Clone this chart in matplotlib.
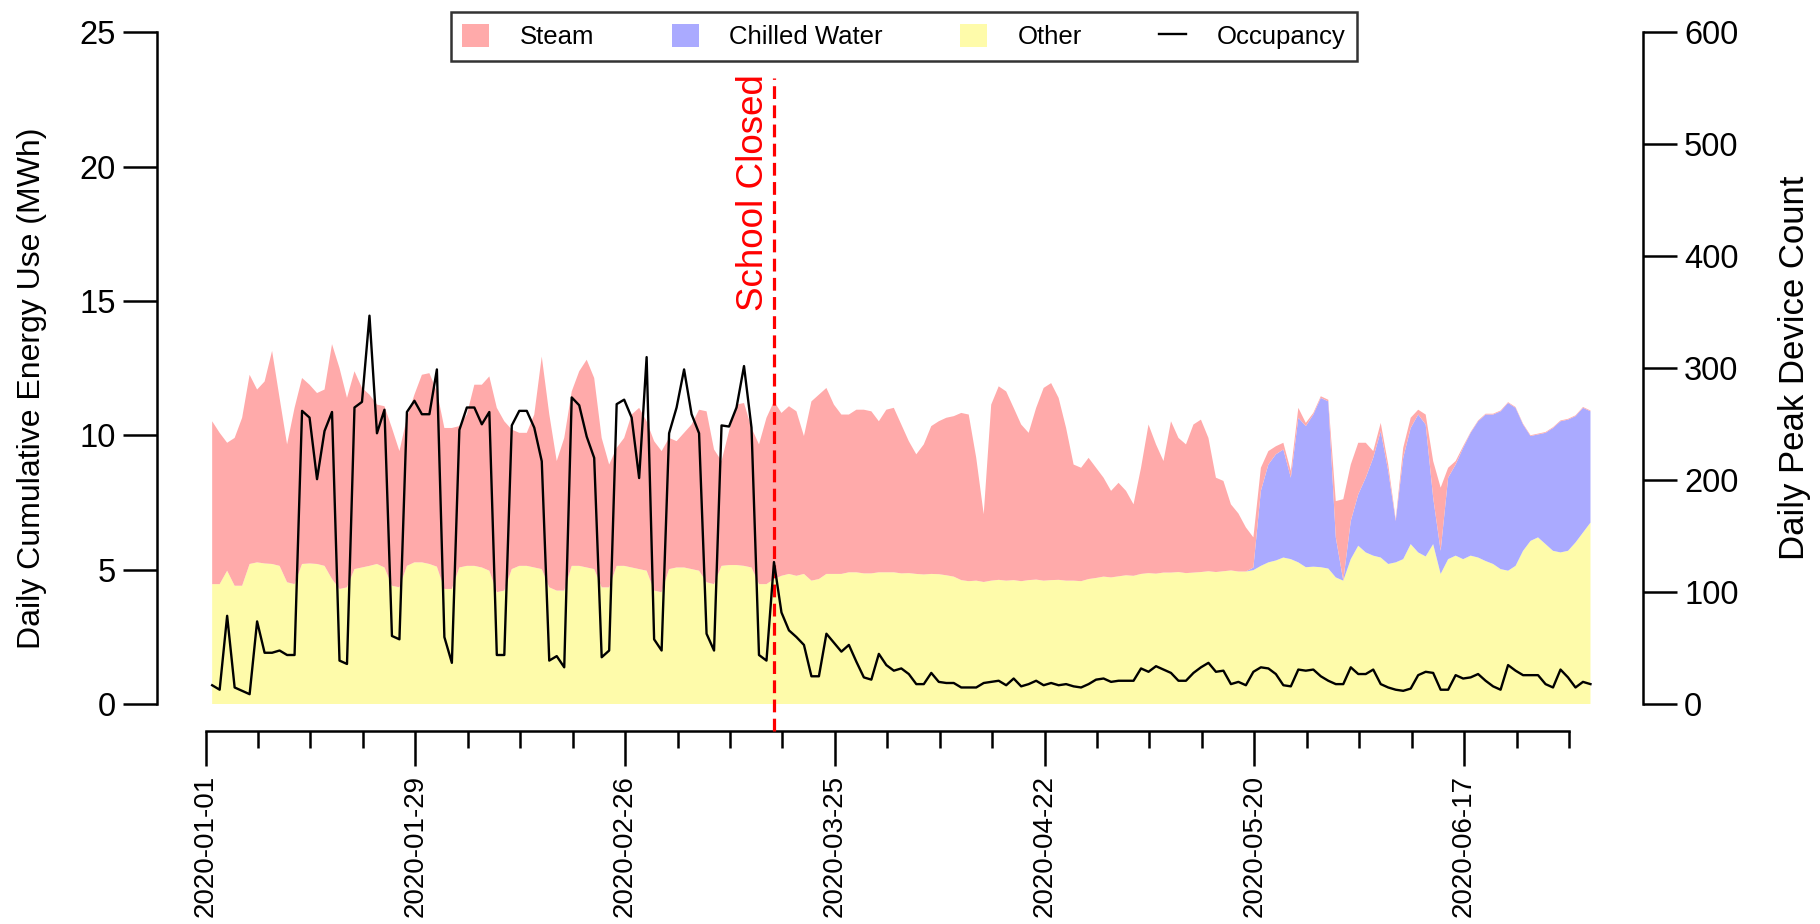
import matplotlib
matplotlib.use('Agg')
import matplotlib.pyplot as plt
import matplotlib.dates as mdates
import pandas as pd

plt.rcParams['font.family'] = ['Liberation Sans', 'DejaVu Sans']

start = '2020-01-01'
closure_date = '2020-03-16'

# Daily cumulative energy by end use (MWh)
other = [
    4.47, 4.47, 4.97, 4.41, 4.41, 5.22, 5.28, 5.24, 5.22, 5.15,
    4.54, 4.47, 5.22, 5.24, 5.22, 5.15, 4.66, 4.29, 4.35, 5.03,
    5.09, 5.15, 5.22, 5.09, 4.41, 4.35, 5.15, 5.28, 5.28, 5.22,
    5.12, 4.29, 4.29, 5.09, 5.15, 5.15, 5.09, 4.97, 4.17, 4.23,
    5.03, 5.15, 5.15, 5.09, 5.03, 4.35, 4.23, 4.23, 5.15, 5.15,
    5.09, 5.03, 4.35, 4.35, 5.15, 5.15, 5.09, 5.03, 4.97, 4.23,
    4.17, 5.03, 5.09, 5.09, 5.03, 4.97, 4.54, 4.47, 5.15, 5.18,
    5.18, 5.15, 5.09, 4.47, 4.47, 4.66, 4.78, 4.85, 4.78, 4.85,
    4.60, 4.66, 4.85, 4.85, 4.85, 4.91, 4.91, 4.87, 4.87, 4.91,
    4.91, 4.91, 4.87, 4.88, 4.85, 4.83, 4.85, 4.84, 4.80, 4.75,
    4.62, 4.58, 4.60, 4.55, 4.60, 4.63, 4.60, 4.62, 4.58, 4.62,
    4.64, 4.60, 4.62, 4.63, 4.60, 4.60, 4.58, 4.66, 4.70, 4.75,
    4.72, 4.76, 4.80, 4.78, 4.85, 4.88, 4.86, 4.90, 4.90, 4.92,
    4.88, 4.90, 4.92, 4.95, 4.92, 4.95, 4.98, 4.94, 4.94, 4.99,
    5.15, 5.28, 5.35, 5.46, 5.40, 5.28, 5.10, 5.12, 5.10, 5.05,
    4.72, 4.60, 5.40, 5.90, 5.65, 5.53, 5.46, 5.22, 5.28, 5.40,
    5.96, 5.65, 5.50, 5.96, 4.85, 5.40, 5.53, 5.40, 5.53, 5.46,
    5.33, 5.22, 5.03, 4.97, 5.15, 5.71, 6.08, 6.21, 5.96, 5.71,
    5.65, 5.71, 6.02, 6.39, 6.76,
]

chilled_water = [0.0] * 138 + [
    0.00, 0.10, 2.79, 3.64, 3.95, 4.02, 3.03, 5.38, 5.25, 5.66,
    6.30, 6.22, 1.49, 0.00, 1.42, 1.91, 2.78, 3.64, 4.70, 3.46,
    1.54, 3.77, 4.32, 5.13, 4.91, 1.73, 0.86, 3.03, 3.39, 4.14,
    4.57, 5.07, 5.45, 5.56, 5.87, 6.24, 5.88, 4.70, 3.90, 3.83,
    4.14, 4.57, 4.88, 4.88, 4.70, 4.64, 4.14,
]

steam = [
    6.06, 5.63, 4.76, 5.50, 6.25, 7.04, 6.43, 6.77, 7.93, 6.25,
    5.13, 6.56, 6.92, 6.65, 6.36, 6.56, 8.74, 8.22, 7.05, 7.36,
    6.68, 6.37, 5.93, 6.00, 5.87, 5.07, 5.51, 6.24, 6.98, 7.10,
    6.52, 5.99, 5.99, 5.26, 5.63, 6.74, 6.80, 7.23, 6.86, 6.30,
    5.19, 4.95, 4.95, 5.69, 7.91, 6.45, 4.82, 5.68, 6.49, 7.24,
    7.73, 7.11, 5.56, 4.57, 4.39, 4.76, 5.69, 6.00, 5.56, 5.56,
    5.25, 4.88, 4.70, 5.01, 5.38, 5.99, 6.36, 5.01, 3.90, 4.98,
    5.97, 6.06, 5.19, 5.20, 6.19, 6.61, 6.06, 6.24, 6.12, 5.13,
    6.67, 6.86, 6.92, 6.30, 5.93, 5.87, 6.05, 6.09, 6.03, 5.62,
    6.05, 6.12, 5.54, 4.91, 4.45, 4.84, 5.50, 5.69, 5.86, 5.97,
    6.22, 6.20, 4.57, 2.52, 6.55, 7.20, 7.04, 6.41, 5.83, 5.48,
    6.39, 7.17, 7.33, 6.77, 5.68, 4.32, 4.22, 4.51, 4.10, 3.68,
    3.22, 3.48, 3.14, 2.66, 3.95, 5.53, 4.81, 4.15, 5.63, 4.99,
    4.79, 5.51, 5.67, 4.96, 3.51, 3.36, 2.46, 2.16, 1.64, 1.12,
    0.86, 0.50, 0.30, 0.25, 0.25, 0.37, 0.12, 0.06, 0.06, 0.06,
    1.35, 3.03, 2.10, 1.92, 1.30, 0.25, 0.31, 0.24, 0.07, 0.37,
    0.38, 0.18, 0.37, 1.36, 2.35, 0.37, 0.13, 0.06, 0.03, 0.03,
    0.03, 0.03, 0.03, 0.03, 0.03, 0.03, 0.03, 0.03, 0.03, 0.03,
    0.03, 0.03, 0.03, 0.03, 0.03,
]

# Daily peak connected device count
occupancy = [
    17, 13, 79, 15, 12, 9, 74, 46, 46, 48,
    44, 44, 262, 256, 201, 244, 261, 39, 36, 265,
    270, 347, 242, 263, 61, 58, 261, 271, 259, 259,
    299, 60, 37, 245, 265, 265, 250, 261, 44, 44,
    249, 262, 262, 247, 217, 39, 43, 33, 274, 267,
    239, 220, 42, 48, 268, 272, 256, 202, 310, 58,
    48, 242, 265, 299, 259, 242, 63, 48, 249, 248,
    265, 302, 247, 44, 39, 127, 82, 66, 60, 53,
    25, 25, 63, 55, 47, 53, 38, 24, 22, 45,
    35, 30, 32, 27, 18, 18, 28, 20, 19, 19,
    15, 15, 15, 19, 20, 21, 17, 23, 16, 18,
    21, 17, 19, 17, 18, 16, 15, 18, 22, 23,
    20, 21, 21, 21, 32, 29, 34, 31, 28, 21,
    21, 28, 33, 37, 29, 30, 18, 20, 17, 29,
    33, 32, 27, 17, 16, 31, 30, 31, 25, 21,
    18, 18, 33, 27, 27, 31, 18, 15, 13, 12,
    14, 26, 29, 28, 13, 13, 26, 23, 24, 27,
    21, 16, 13, 35, 30, 26, 26, 26, 18, 15,
    31, 24, 15, 20, 18,
]

# readings are stamped late in the evening of each day
days = pd.date_range(start + ' 21:00', periods=len(occupancy), freq='D')
closure = pd.Timestamp(closure_date + ' 21:00')

steam_color = '#FFAAAA'
chw_color = '#AAAAFF'
other_color = '#FEFBAA'

fig = plt.figure(figsize=(18.2, 9.24), dpi=100)
ax = fig.add_axes([0.0863, 0.2378, 0.8165, 0.7272])

polys = ax.stackplot(days, other, chilled_water, steam,
                     colors=[other_color, chw_color, steam_color],
                     linewidth=0)

ax.axvline(closure, ymin=-1.0 / 25, ymax=23.3 / 25, color='red',
           lw=2.3, linestyle=(0, (4, 2)), clip_on=False, zorder=5)
ax.text(closure - pd.Timedelta(hours=8), 23.45, 'School Closed', rotation=90,
        ha='right', va='top', color='red', fontsize=26.5)

t0 = mdates.date2num(pd.Timestamp(start).to_pydatetime())
ax.set_xlim(t0 - 6.48, t0 + 191.9)
ax.set_ylim(0, 25)
ax.set_yticks([0, 5, 10, 15, 20, 25])

major = pd.date_range('2020-01-01', '2020-07-01', freq='28D')
minor = pd.date_range('2020-01-01', '2020-07-01', freq='7D')
ax.set_xticks(mdates.date2num(major.to_pydatetime()))
ax.set_xticks(mdates.date2num(minor.to_pydatetime()), minor=True)
ax.xaxis.set_major_formatter(mdates.DateFormatter('%Y-%m-%d'))

ax.spines['top'].set_visible(False)
ax.spines['right'].set_visible(False)
ax.spines['bottom'].set_position(('outward', 19))
ax.spines['bottom'].set_bounds(t0, t0 + 182)
for s in ['left', 'bottom']:
    ax.spines[s].set_linewidth(1.8)

ax.tick_params(axis='y', direction='out', length=24.5, width=1.8,
               labelsize=23.5, pad=5)
ax.tick_params(axis='x', which='major', direction='out', length=25,
               width=1.8, labelsize=20, pad=7, labelrotation=90)
ax.tick_params(axis='x', which='minor', direction='out', length=12, width=1.8)

ax.set_ylabel('Daily Cumulative Energy Use (MWh)', fontsize=23)
ax.yaxis.set_label_coords(-0.074, 0.47)

ax2 = ax.twinx()
occ_line, = ax2.plot(days, occupancy, color='black', lw=1.7)
ax2.set_ylim(0, 600)
ax2.set_yticks(range(0, 601, 100))
for s in ['top', 'left', 'bottom']:
    ax2.spines[s].set_visible(False)
ax2.spines['right'].set_linewidth(1.8)
ax2.tick_params(axis='y', direction='out', length=24.5, width=1.8,
                labelsize=23.5, pad=5)
ax2.set_ylabel('Daily Peak Device Count', fontsize=25)
ax2.yaxis.set_label_coords(1.091, 0.5)

handles = [polys[2], polys[1], polys[0], occ_line]
labels = ['Steam', 'Chilled Water', 'Other', 'Occupancy']
leg = fig.legend(handles, labels, loc='upper center',
                 bbox_to_anchor=(904 / 1820, 1 - 12 / 924), ncol=4,
                 frameon=True, fancybox=False, edgecolor='black',
                 fontsize=18.5, handlelength=1.05, handleheight=1.05,
                 handletextpad=1.2, columnspacing=3.0, borderpad=0.45,
                 borderaxespad=0)
leg.get_frame().set_linewidth(1.8)

fig.savefig('out.png', dpi=100)
